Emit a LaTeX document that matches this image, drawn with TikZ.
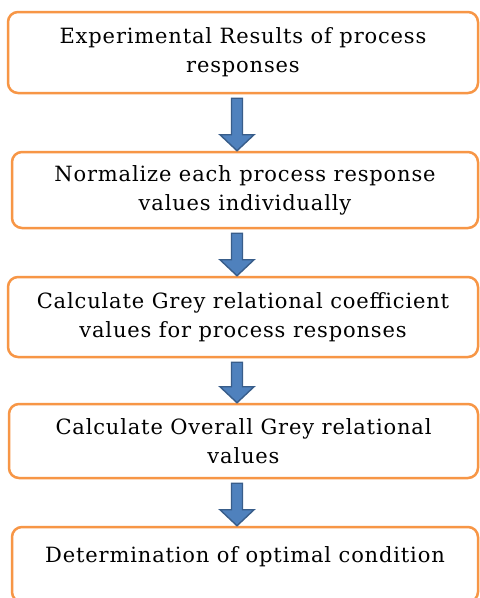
\documentclass[tikz,border=0pt]{standalone}
\usepackage{fontspec}
\setmainfont{DejaVu Serif}[LetterSpace=4]
\usepackage{xcolor}
\usetikzlibrary{calc}
\definecolor{boxorange}{HTML}{F79646}
\definecolor{arrowblue}{HTML}{4F81BD}
\definecolor{arrowline}{HTML}{385D8A}
\tikzset{
	stepbox/.style={draw=boxorange, line width=2.5pt, rounded corners=10pt, fill=white, align=center, font=\fontsize{21}{29}\selectfont, inner sep=0pt},
	arrowbody/.style={fill=arrowblue, draw=arrowline, line width=1.4pt, line join=miter}
}
\newcommand{\flowarrow}[2]{%
	\path (#1.south -| axis) ++(0,-4) coordinate (s);
	\path (#2.north -| axis) coordinate (t);
	\draw[arrowbody] ($(s)+(-5.5,0)$) -- ($(s)+(5.5,0)$) -- ($(t)+(5.5,16)$) -- ($(t)+(17,16)$) -- (t) -- ($(t)+(-17,16)$) -- ($(t)+(-5.5,16)$) -- cycle;
}

\begin{document}
\begin{tikzpicture}[x=1pt, y=1pt]
	\useasboundingbox[fill=white] (0,0) rectangle (480,-598);
	\coordinate (axis) at (237,0);
	\node(results)[stepbox, minimum width=470, minimum height=81, anchor=center] at (243,-52.5) {Experimental Results of process\\responses};
	\node(normalize)[stepbox, minimum width=466, minimum height=76, anchor=center] at (245,-190) {Normalize each process response\\values individually};
	\node(coeff)[stepbox, minimum width=470, minimum height=80, anchor=center] at (243,-317) {Calculate Grey relational coefficient\\values for process responses};
	\node(overall)[stepbox, minimum width=469, minimum height=74, anchor=center] at (243.5,-441) {Calculate Overall Grey relational\\values};
	\node(optimal)[stepbox, minimum width=466, minimum height=75, anchor=center, text depth=20] at (245,-564.5) {Determination of optimal condition};
	\flowarrow{results}{normalize}
	\flowarrow{normalize}{coeff}
	\flowarrow{coeff}{overall}
	\flowarrow{overall}{optimal}
\end{tikzpicture}
\end{document}
